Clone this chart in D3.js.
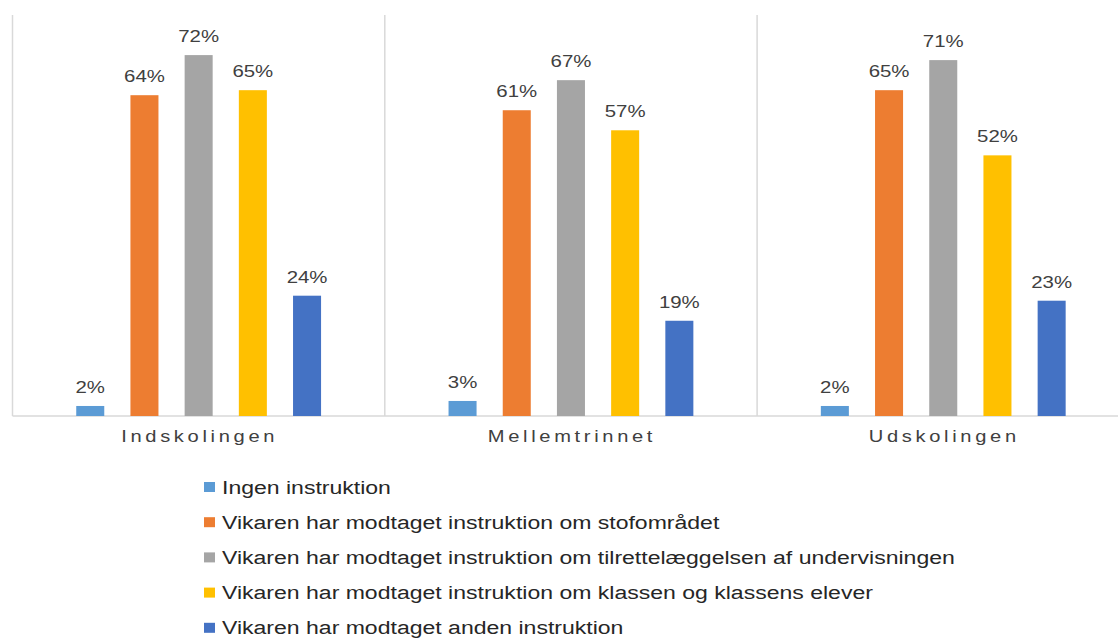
<!DOCTYPE html>
<html><head><meta charset="utf-8">
<script src="https://cdn.jsdelivr.net/npm/d3@7/dist/d3.min.js"></script>
<style>body{margin:0;background:#fff;}svg{display:block;font-family:"Liberation Sans",Arial,sans-serif;}</style>
</head><body><svg id="c" width="1118" height="638"></svg>
<script>
const categories = ["Indskolingen", "Mellemtrinnet", "Udskolingen"];
const seriesNames = [
  "Ingen instruktion",
  "Vikaren har modtaget instruktion om stofområdet",
  "Vikaren har modtaget instruktion om tilrettelæggelsen af undervisningen",
  "Vikaren har modtaget instruktion om klassen og klassens elever",
  "Vikaren har modtaget anden instruktion"
];
const ingen = [2, 3, 2];
const stof = [64, 61, 65];
const tilrette = [72, 67, 71];
const klassen = [65, 57, 52];
const anden = [24, 19, 23];
const colors = ["#5B9BD5", "#ED7D31", "#A5A5A5", "#FFC000", "#4472C4"];

const series = [ingen, stof, tilrette, klassen, anden];
const svg = d3.select("#c");
const left = 12.5, groupW = 372.3;
const x0 = d3.scaleBand().domain(categories).range([left, left + groupW * 3]).paddingInner(0).paddingOuter(0);
const x1 = d3.scaleBand().domain(d3.range(5)).range([0, groupW]).paddingInner(0.483).paddingOuter(1.176);
const y = d3.scaleLinear().domain([0, 80]).range([416, 15]);

const g = svg.append("g");
categories.forEach(c => {
  g.append("line").attr("x1", x0(c)).attr("x2", x0(c)).attr("y1", y(80)).attr("y2", y(0))
    .attr("stroke", "#d9d9d9").attr("stroke-width", 1.5);
});
g.append("line").attr("x1", left).attr("x2", 1118).attr("y1", y(0)).attr("y2", y(0))
  .attr("stroke", "#d9d9d9").attr("stroke-width", 1.5);

categories.forEach((c, ci) => {
  const gg = svg.append("g").attr("transform", `translate(${x0(c)},0)`);
  series.forEach((s, si) => {
    const v = s[ci];
    gg.append("rect").attr("x", x1(si)).attr("width", x1.bandwidth())
      .attr("y", y(v)).attr("height", y(0) - y(v)).attr("fill", colors[si]);
    const cx = x1(si) + x1.bandwidth() / 2;
    gg.append("text").attr("transform", `translate(${cx},${y(v) - 13}) scale(1.2,1)`)
      .attr("text-anchor", "middle").attr("font-size", 17).attr("fill", "#404040")
      .text(v + "%");
  });
  gg.append("text").attr("transform", `translate(${groupW / 2 + 1},442) scale(1.22,1)`)
    .attr("text-anchor", "middle")
    .attr("font-size", 16.5).attr("letter-spacing", "3px").attr("fill", "#404040").text(c);
});

const leg = svg.append("g").attr("transform", "translate(204,0)");
seriesNames.forEach((n, i) => {
  const cy = 487 + i * 35.2;
  leg.append("rect").attr("x", 0).attr("y", cy - 5).attr("width", 11).attr("height", 10).attr("fill", colors[i]);
  leg.append("text").attr("transform", `translate(18,${cy + 6.5}) scale(1.28,1)`)
    .attr("font-size", 18).attr("fill", "#262626").text(n);
});
</script></body></html>
